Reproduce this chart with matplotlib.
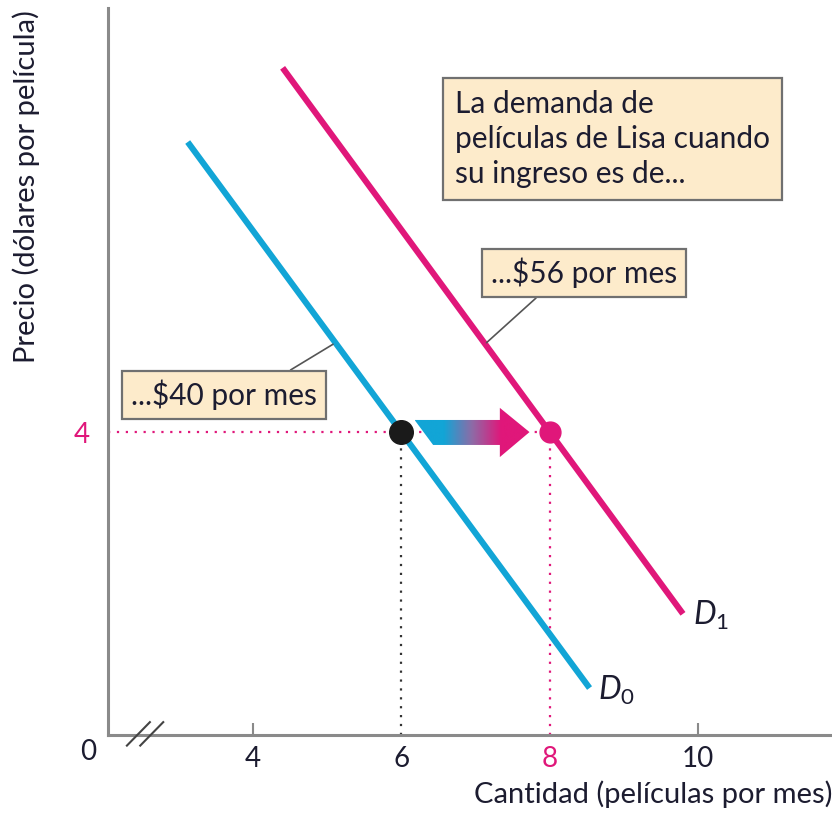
import numpy as np
import matplotlib
matplotlib.use("Agg")
from matplotlib import pyplot as plt
from matplotlib.patches import Polygon
from matplotlib.colors import LinearSegmentedColormap

plt.rcParams['font.family'] = ['Lato', 'DejaVu Sans']
plt.rcParams['mathtext.fontset'] = 'custom'
plt.rcParams['mathtext.rm'] = 'Lato'
plt.rcParams['mathtext.it'] = 'Lato:italic'

# demand curves (quantity, price)
d0_q = [3.12, 8.54]
d0_p = [7.83, 0.62]
d1_q = [4.40, 9.80]
d1_p = [8.81, 1.60]

price = 4
q_old = 6
q_new = 8

xticks = [4, 6, 8, 10]
xlabels = ["4", "6", "8", "10"]

blue = "#12A5D6"
pink = "#E0177A"
txt = "#1c1c30"
boxfill = "#FDEBCB"
boxedge = "#707070"
axcol = "#8a8a8a"

fig = plt.figure(figsize=(8.32, 8.15), dpi=100)
ax = fig.add_axes([108/832, 80/815, (832-108)/832, (735-8)/815])
ax.set_xlim(2.045, 11.81)
ax.set_ylim(0, 9.6)

for s in ["top", "right"]:
    ax.spines[s].set_visible(False)
for s in ["left", "bottom"]:
    ax.spines[s].set_color(axcol)
    ax.spines[s].set_linewidth(2.2)

# dotted guide lines
ax.plot([ax.get_xlim()[0], q_new], [price, price], color=pink, lw=1.6,
        ls=(0, (1, 3)), zorder=1)
ax.plot([q_new, q_new], [0, price], color=pink, lw=1.6, ls=(0, (1, 3)), zorder=1)
ax.plot([q_old, q_old], [0, price], color="#333333", lw=1.6, ls=(0, (1, 3)), zorder=1)

# demand curves
ax.plot(d0_q, d0_p, color=blue, lw=4.4, solid_capstyle='butt', zorder=2)
ax.plot(d1_q, d1_p, color=pink, lw=4.4, solid_capstyle='butt', zorder=2)

# gradient arrow from D0 to D1
x0 = q_old + 0.18
x1 = q_new - 0.27
hb = x1 - 0.40
verts = [(x0, price + 0.16), (hb, price + 0.16), (hb, price + 0.32), (x1, price),
         (hb, price - 0.33), (hb, price - 0.17), (x0 + 0.25, price - 0.17)]
poly = Polygon(verts, closed=True, facecolor='none', edgecolor='none')
ax.add_patch(poly)
cmap = LinearSegmentedColormap.from_list('bp', [blue, blue, "#8f6aa6", pink, pink])
grad = np.linspace(0, 1, 256).reshape(1, -1)
im = ax.imshow(grad, extent=[x0, x1, price - 0.33, price + 0.32], aspect='auto',
               cmap=cmap, zorder=3)
im.set_clip_path(poly)

# points
ax.plot([q_old], [price], 'o', color="#1a1a1a", ms=17, zorder=4)
ax.plot([q_new], [price], 'o', color=pink, ms=15, zorder=4)

ax.set_xlim(2.045, 11.81)
ax.set_ylim(0, 9.6)

# ticks
ax.set_xticks(xticks)
ax.set_xticklabels(xlabels, fontsize=20, color=txt)
ax.tick_params(axis='x', direction='in', length=9, width=1.5, color=axcol, pad=8)
for i, t in enumerate(ax.xaxis.get_major_ticks()):
    if xticks[i] in (q_old, q_new):
        t.tick1line.set_visible(False)
ax.get_xticklabels()[xticks.index(q_new)].set_color(pink)
ax.set_yticks([price])
ax.set_yticklabels([str(price)], fontsize=20, color=pink)
ax.tick_params(axis='y', length=0, pad=13)

ax.text(-0.028, -0.024, "0", transform=ax.transAxes, fontsize=20, color=txt,
        ha='center', va='center')

# axis break marks
for dx in (0, 0.18):
    ax.plot([2.30 + dx, 2.61 + dx], [-0.14, 0.17], color="#444444", lw=1.5,
            clip_on=False, zorder=5)

ax.set_xlabel("Cantidad (películas por mes)", fontsize=21, color=txt, loc='right',
              labelpad=6)
ax.set_ylabel("Precio (dólares por película)", fontsize=21, color=txt, loc='top')
ax.yaxis.set_label_coords(-0.094, 0.997)

# curve labels
ax.text(9.93, 1.58, r"$D_{\mathrm{1}}$", fontsize=23, color=txt, ha='left', va='center')
ax.text(8.65, 0.59, r"$D_{\mathrm{0}}$", fontsize=23, color=txt, ha='left', va='center')

bbox = dict(boxstyle="square,pad=0.3", fc=boxfill, ec=boxedge, lw=1.6)

ax.text(6.72, 7.87, "La demanda de\npelículas de Lisa cuando\nsu ingreso es de...",
        fontsize=21.5, color=txt, ha='left', va='center', linespacing=1.32,
        bbox=dict(boxstyle="square,pad=0.4", fc=boxfill, ec=boxedge, lw=1.6),
        zorder=6)

ax.annotate(r"...\$40 por mes", xy=(5.08, 5.16), xytext=(2.36, 4.49),
            fontsize=21.5, color=txt, ha='left', va='center', bbox=bbox,
            arrowprops=dict(arrowstyle='-', color="#555555", lw=1.2,
                            shrinkA=0, shrinkB=0, relpos=(0.77, 1.0)),
            zorder=6)
ax.annotate(r"...\$56 por mes", xy=(7.15, 5.18), xytext=(7.21, 6.10),
            fontsize=21.5, color=txt, ha='left', va='center', bbox=bbox,
            arrowprops=dict(arrowstyle='-', color="#555555", lw=1.2,
                            shrinkA=0, shrinkB=0, relpos=(0.3, 0.0)),
            zorder=6)

fig.savefig("out.png", dpi=100)
